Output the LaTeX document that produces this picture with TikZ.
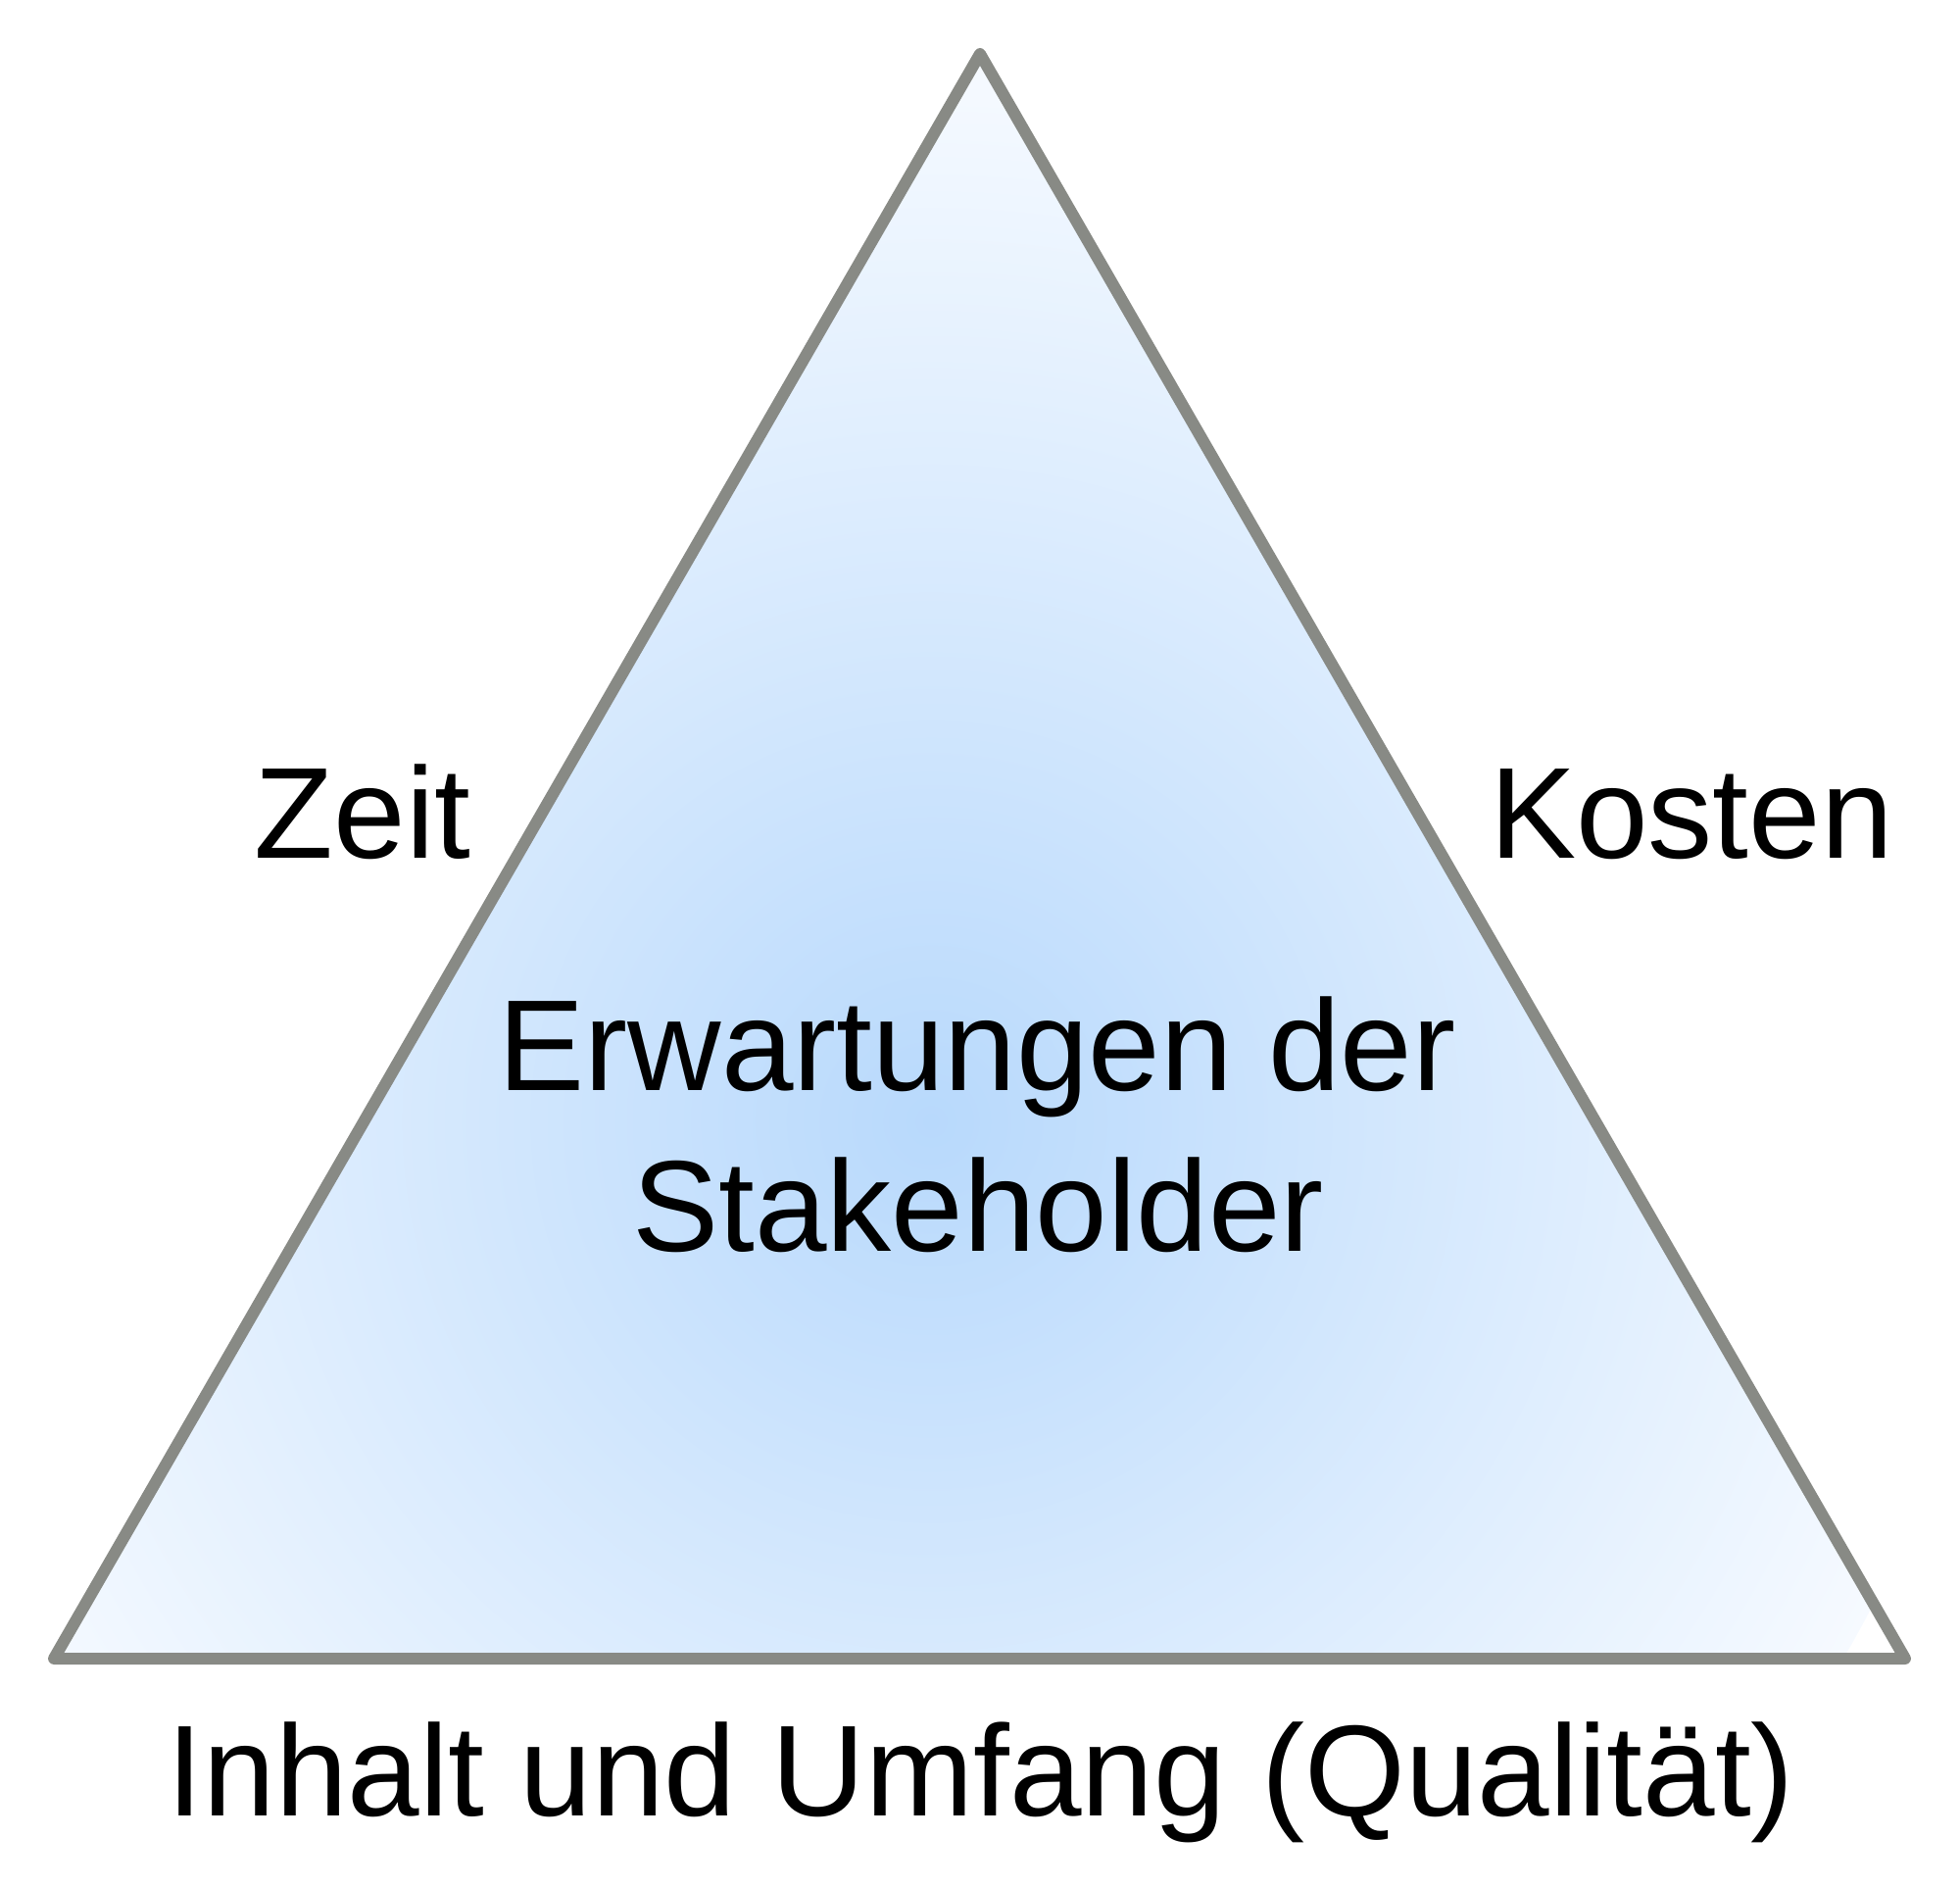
\documentclass[tikz,border=0pt]{standalone}
\usepackage{fontspec}
\setmainfont{Liberation Sans}
\usetikzlibrary{calc,positioning}
\definecolor{rand}{HTML}{888A85}
\definecolor{innen}{HTML}{B8D9FC}
\definecolor{aussen}{HTML}{F6FAFF}
\begin{document}
\begin{tikzpicture}[scale=1,
    label/.style={inner sep=0pt,anchor=base,font=\fontsize{37.6}{46.7}\selectfont}]
       \useasboundingbox (0,0) rectangle (20,19.24);
       \coordinate (A) at (0.55,2.32);
       \coordinate (B) at (19.44,2.32);
       \coordinate (C) at (10,18.69);
       \begin{scope}
         \clip (A) -- (B) -- (C) -- cycle;
         \shade[inner color=innen,outer color=aussen] (9.5,7.8) circle (10.8);
       \end{scope}
       \draw[rand,line width=0.12cm,line join=round] (A) -- (B) -- (C) -- cycle;
         \node[label] (zeit) at (3.70,10.49) {Zeit};
         \node[label] (kosten) at (17.26,10.49) {Kosten};
         \node[label] (erw) at (9.97,8.12) {Erwartungen der};
         \node[label] (stake) at (9.98,6.48) {Stakeholder};
         \node[label] (inhalt) at (10.01,0.72) {Inhalt und Umfang (Qualität)};
     \end{tikzpicture}
\end{document}
